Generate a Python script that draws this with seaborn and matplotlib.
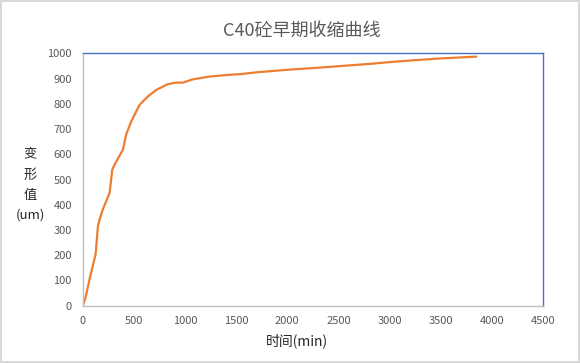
import matplotlib
matplotlib.use("Agg")
import matplotlib.pyplot as plt
import seaborn as sns
import pandas as pd

time_min = [0, 26, 65, 124, 147, 163, 195, 261, 287, 309, 391, 423, 472, 554, 635,
            717, 831, 912, 977, 1075, 1238, 1401, 1549, 1726, 2038, 2300, 2527,
            2800, 3017, 3250, 3506, 3700, 3848]
deform_um = [0, 33, 105, 204, 316, 342, 382, 447, 539, 559, 618, 678, 730, 796, 829,
             855, 878, 884, 884, 897, 908, 914, 918, 926, 936, 943, 950,
             958, 966, 973, 980, 984, 987]
x_ticks = list(range(0, 4501, 500))
y_ticks = list(range(0, 1001, 100))

title = "C40砼早期收缩曲线"
xlabel = "时间(min)"
ylabel = "变\n形\n值\n(um)"

sns.set_theme(style="white")
plt.rcParams['font.family'] = ['Noto Sans CJK SC', 'DejaVu Sans']

df = pd.DataFrame({"t": time_min, "v": deform_um})

fig = plt.figure(figsize=(5.8, 3.63), dpi=100)
fig.patch.set_edgecolor("#D9D9D9")
fig.patch.set_linewidth(1.5)
ax = fig.add_axes([0.143, 0.158, 0.793, 0.695])

sns.lineplot(data=df, x="t", y="v", ax=ax, color="#ED7D31", linewidth=1.6)

ax.set_xlim(0, 4500)
ax.set_ylim(0, 1000)
ax.set_xticks(x_ticks)
ax.set_yticks(y_ticks)
ax.tick_params(axis="y", length=0, labelsize=8, labelcolor="#595959", pad=8)
ax.tick_params(axis="x", length=0, labelsize=8, labelcolor="#595959", pad=7.5)

ax.spines["left"].set_color("#BFBFBF")
ax.spines["bottom"].set_color("#BFBFBF")
ax.spines["top"].set_color("#4472C4")
ax.spines["right"].set_color("#4472C4")
for s in ax.spines.values():
    s.set_linewidth(1.0)

ax.set_xlabel("")
ax.set_ylabel("")
fig.text(0.512, 0.062, xlabel, ha="center", va="center", fontsize=10, color="#262626")
fig.text(0.052, 0.49, ylabel, ha="center", va="center", fontsize=9.5, color="#262626",
         linespacing=1.7)
fig.text(0.52, 0.915, title, ha="center", va="center", fontsize=13, color="#595959")

fig.savefig("out.png", dpi=100)
